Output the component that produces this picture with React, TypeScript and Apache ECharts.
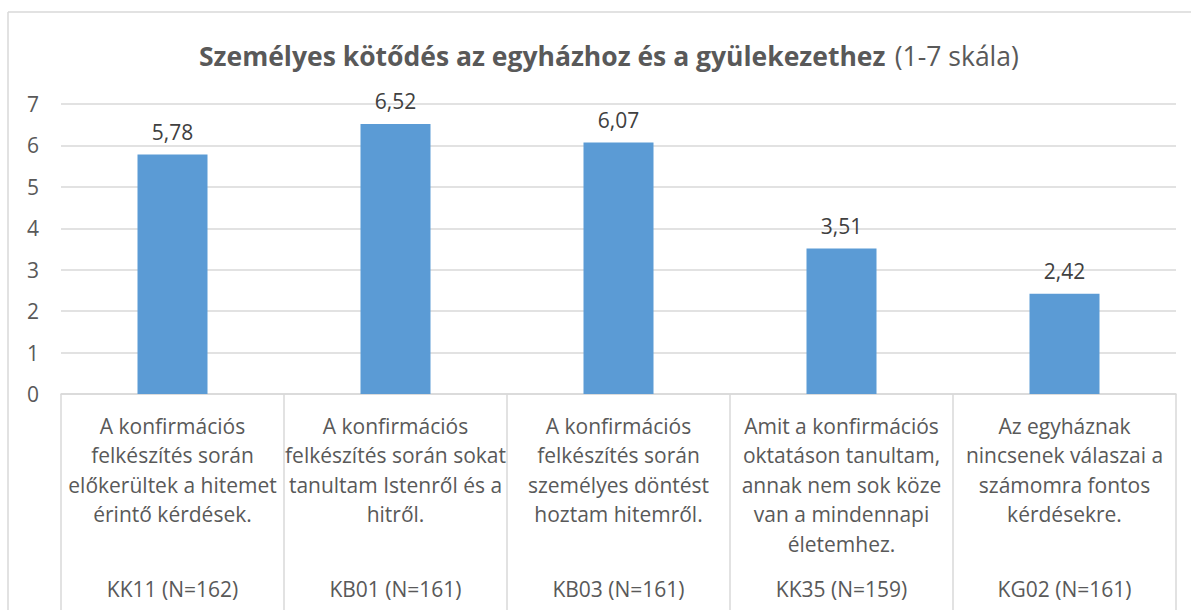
import React, { useEffect, useRef } from "react";
import * as echarts from "echarts";

const categories = [
  "A konfirmációs\nfelkészítés során\nelőkerültek a hitemet\nérintő kérdések.",
  "A konfirmációs\nfelkészítés során sokat\ntanultam Istenről és a\nhitről.",
  "A konfirmációs\nfelkészítés során\nszemélyes döntést\nhoztam hitemről.",
  "Amit a konfirmációs\noktatáson tanultam,\nannak nem sok köze\nvan a mindennapi\néletemhez.",
  "Az egyháznak\nnincsenek válaszai a\nszámomra fontos\nkérdésekre.",
];
const codes = ["KK11 (N=162)", "KB01 (N=161)", "KB03 (N=161)", "KK35 (N=159)", "KG02 (N=161)"];
const values = [5.78, 6.52, 6.07, 3.51, 2.42];
const titleBold = "Személyes kötődés az egyházhoz és a gyülekezethez";
const titleNormal = "(1-7 skála)";

const FONT = "'Open Sans', sans-serif";
const GRID_C = "#d9d9d9";

export default function App() {
  const ref = useRef<HTMLDivElement>(null);
  useEffect(() => {
    if (!ref.current) return;
    const chart = echarts.init(ref.current, null, { renderer: "svg" });
    chart.setOption({
      animation: false,
      backgroundColor: "#ffffff",
      textStyle: { fontFamily: FONT },
      title: {
        text: `{b|${titleBold}}  {n|${titleNormal}}`,
        left: 194,
        top: 33,
        textStyle: {
          rich: {
            b: { fontFamily: FONT, fontWeight: "bold", fontSize: 26.5, color: "#595959", lineHeight: 36 },
            n: { fontFamily: FONT, fontWeight: "normal", fontSize: 26.5, color: "#595959", lineHeight: 36 },
          },
        },
      },
      graphic: [
        { type: "line", shape: { x1: 8, y1: 12, x2: 1191, y2: 12 }, style: { stroke: GRID_C, lineWidth: 1.5 } },
        { type: "line", shape: { x1: 8, y1: 12, x2: 8, y2: 610 }, style: { stroke: GRID_C, lineWidth: 1.5 } },
      ],
      grid: { left: 61, right: 15, top: 104, bottom: 216, containLabel: false },
      xAxis: [
        {
          type: "category",
          data: categories,
          axisLine: { show: true, lineStyle: { color: GRID_C, width: 1.5 } },
          axisTick: { show: true, length: 216, interval: 0, lineStyle: { color: GRID_C, width: 1.5 } },
          axisLabel: {
            interval: 0,
            margin: 17,
            color: "#595959",
            fontFamily: FONT,
            fontSize: 21,
            lineHeight: 29.5,
            align: "center",
          },
        },
        {
          type: "category",
          data: codes,
          position: "bottom",
          axisLine: { show: false },
          axisTick: { show: false },
          axisLabel: {
            interval: 0,
            margin: 183,
            color: "#595959",
            fontFamily: FONT,
            fontSize: 21,
            lineHeight: 24,
          },
        },
      ],
      yAxis: {
        type: "value",
        min: 0,
        max: 7,
        interval: 1,
        axisLine: { show: false },
        axisTick: { show: false },
        splitLine: { lineStyle: { color: GRID_C, width: 1.5 } },
        axisLabel: { color: "#595959", fontFamily: FONT, fontSize: 21, margin: 22 },
      },
      series: [
        {
          type: "bar",
          data: values,
          barWidth: 70,
          itemStyle: { color: "#5b9bd5" },
          label: {
            show: true,
            position: "top",
            distance: 12,
            color: "#404040",
            fontFamily: FONT,
            fontSize: 21,
            formatter: (p: any) => Number(p.value).toFixed(2).replace(".", ","),
          },
        },
      ],
    });
    return () => chart.dispose();
  }, []);
  return <div ref={ref} style={{ position: "fixed", left: 0, top: 0, width: 1191, height: 610 }} />;
}
